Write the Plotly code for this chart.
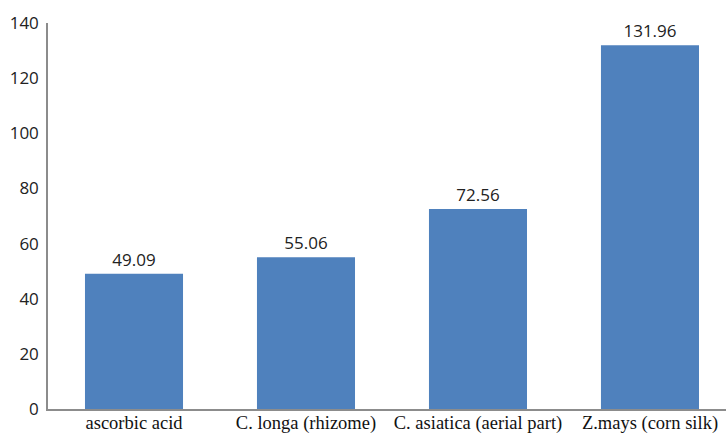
import plotly.graph_objects as go

categories = ["ascorbic acid", "C. longa (rhizome)", "C. asiatica (aerial part)", "Z.mays (corn silk)"]
values = [49.09, 55.06, 72.56, 131.96]
value_labels = ["49.09", "55.06", "72.56", "131.96"]
y_ticks = [0, 20, 40, 60, 80, 100, 120, 140]

fig = go.Figure(
    go.Bar(
        x=list(range(len(categories))),
        y=values,
        text=value_labels,
        textposition="outside",
        textfont=dict(family="Open Sans, Liberation Sans, sans-serif", size=17, color="#222222"),
        marker=dict(color="#4F81BD", line=dict(width=0)),
        width=0.57,
        cliponaxis=False,
    )
)

fig.update_layout(
    width=726,
    height=434,
    margin=dict(l=48, r=0, t=23, b=25),
    paper_bgcolor="white",
    plot_bgcolor="white",
    showlegend=False,
    xaxis=dict(
        range=[-0.5, 3.442],
        tickmode="array",
        tickvals=list(range(len(categories))),
        ticktext=categories,
        tickfont=dict(family="Liberation Serif, serif", size=18.5, color="#111111"),
        showgrid=False,
        showline=True,
        linecolor="#8c8c8c",
        linewidth=1.5,
        ticks="",
        ticklabelstandoff=-4,
        automargin=False,
        fixedrange=True,
    ),
    yaxis=dict(
        range=[0, 140],
        tickmode="array",
        tickvals=y_ticks,
        tickfont=dict(family="Open Sans, Liberation Sans, sans-serif", size=17, color="#222222"),
        showgrid=False,
        zeroline=False,
        showline=True,
        linecolor="#8c8c8c",
        linewidth=1.5,
        ticks="",
        ticklabelstandoff=4,
        automargin=False,
        fixedrange=True,
    ),
)

fig.write_html("out.html")
